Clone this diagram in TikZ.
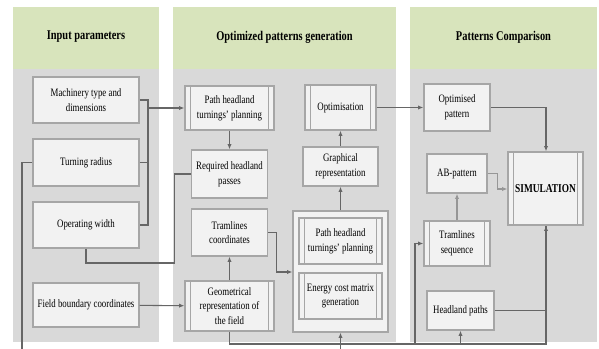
\documentclass[tikz,border=0pt]{standalone}
\usepackage{fontspec}
\setmainfont{Liberation Serif}[FakeStretch=0.78]
\usetikzlibrary{arrows.meta}
\definecolor{hdr}{HTML}{D8E4BC}
\definecolor{bodyg}{HTML}{D9D9D9}
\definecolor{boxf}{HTML}{F2F2F2}
\definecolor{boxd}{HTML}{A6A6A6}
\definecolor{linec}{HTML}{666666}
\definecolor{linel}{HTML}{969696}
\newcommand\proclines[1]{\draw[procl] ([xshift=4.5pt]#1.north west) -- ([xshift=4.5pt]#1.south west) ([xshift=-4.5pt]#1.north east) -- ([xshift=-4.5pt]#1.south east);}
\begin{document}
\begin{tikzpicture}[x=0.75pt,y=-0.75pt,
  box/.style={draw=boxd, fill=boxf, line width=0.9pt, align=center, inner sep=0pt,
    font=\fontsize{8.5}{11}\selectfont},
  sz/.style 2 args={minimum width=#1*0.75pt, minimum height=#2*0.75pt},
  procl/.style={draw=boxd, line width=0.7pt},
  hdrtext/.style={font=\fontsize{10}{12}\selectfont\bfseries},
  conn/.style={draw=linec, line width=0.8pt},
  arr/.style={conn, -{Latex[length=4pt,width=3.2pt]}},
  connl/.style={draw=linel, line width=0.8pt},
  arrl/.style={connl, -{Latex[length=4pt,width=3.2pt]}}]
\useasboundingbox (0,0) rectangle (599,349);
% column backgrounds
\fill[hdr] (13,7) rectangle (159,69);
\fill[bodyg] (13,69) rectangle (159,342);
\fill[hdr] (173,7) rectangle (396,69);
\fill[bodyg] (173,69) rectangle (396,342);
\fill[hdr] (410,7) rectangle (597,69);
\fill[bodyg] (410,69) rectangle (597,342);
\node[hdrtext] (h1) at (86,37) {Input parameters};
\node[hdrtext] (h2) at (284.5,37) {Optimized patterns generation};
\node[hdrtext] (h3) at (503.5,37) {Patterns Comparison};
% column 1
\node[box, sz={106}{46}] (mach) at (86,100) {Machinery type and\\dimensions};
\node[box, sz={106}{47}] (turn) at (86,162.5) {Turning radius};
\node[box, sz={106}{46}] (opw) at (86,225) {Operating width};
\node[box, sz={106}{44}] (field) at (86,305) {Field boundary coordinates};
% column 2
\node[box, sz={89}{44}] (phtp) at (229.5,108) {Path headland\\turnings’ planning};
\node[box, sz={76}{48}] (rhp) at (229.5,174) {Required headland\\passes};
\node[box, sz={76}{47}] (tcoord) at (229.5,232.5) {Tramlines\\coordinates};
\node[box, sz={89}{50}] (geom) at (229.5,306) {Geometrical\\representation of\\the field};
\node[box, sz={71}{45}] (optim) at (340.5,107.5) {Optimisation};
\node[box, sz={75}{39}] (graph) at (340.5,166.5) {Graphical\\representation};
\node[box, sz={95}{121}] (outer) at (340.5,271.5) {};
\node[box, sz={83}{46}] (phtp2) at (340.5,241) {Path headland\\turnings’ planning};
\node[box, sz={83}{46}] (energy) at (340.5,296) {Energy cost matrix\\generation};
% column 3
\node[box, sz={66}{47}] (optpat) at (457,107.5) {Optimised\\pattern};
\node[box, sz={60}{39}] (ab) at (457,173.5) {AB-pattern};
\node[box, sz={75}{73}, font=\fontsize{9}{11}\selectfont\bfseries] (sim) at (545.5,188.5) {SIMULATION};
\node[box, sz={66}{45}] (tseq) at (457,243.5) {Tramlines\\sequence};
\node[box, sz={67}{39}] (head) at (460.5,310.5) {Headland paths};
\proclines{phtp}
\proclines{geom}
\proclines{optim}
\proclines{phtp2}
\proclines{energy}
\proclines{sim}
\proclines{tseq}
% coordinates
\coordinate (busx) at (148,100);
\coordinate (leftend) at (22,349);
\coordinate (botend) at (340.5,349);
\coordinate (bus) at (229.5,344);
\coordinate (busend) at (546,344);
% connectors column 1
\draw[conn] (mach.east) -- (busx) -- (busx |- opw.east) -- (opw.east);
\draw[conn] (turn.east) -- (busx |- turn.east);
\draw[arr] (busx |- phtp.west) -- (phtp.west);
\draw[conn] (turn.west) -- (leftend |- turn.west) -- (leftend);
\draw[conn] (rhp.west) -- ++(-16,0) coordinate (rl) -- (rl |- 0,263) coordinate (rb);
\draw[conn] (opw.south) -- (opw.south |- rb) -- (rb);
% column 2
\draw[arr] (phtp) -- (rhp);
\draw[arr] (geom) -- (tcoord);
\draw[arr] (field) -- (geom);
\draw[arr] (tcoord.east) -- ++(8,0) |- (outer.west |- 0,272);
\draw[arr] (outer) -- (graph);
\draw[arr] (graph) -- (optim);
\draw[arr] (optim) -- (optpat);
\draw[conn] (geom.south) -- (bus) -- (busend) -- (sim.south -| busend);
\draw[arr] (busend |- head.east) -- (sim.south -| busend);
\draw[conn] (head.east) -- (busend |- head.east);
\draw[arr] (botend) -- (outer.south);
\draw[arr] (415,344) |- (tseq.west);
\draw[arr] (head.south |- bus) -- (head.south);
% column 3
\draw[arr] (optpat.east) -| (sim.north -| busend);
\draw[arrl] (ab.east) -- ++(10,0) |- (sim.west |- 0,189);
\draw[arrl] (tseq) -- (ab);
\end{tikzpicture}
\end{document}
